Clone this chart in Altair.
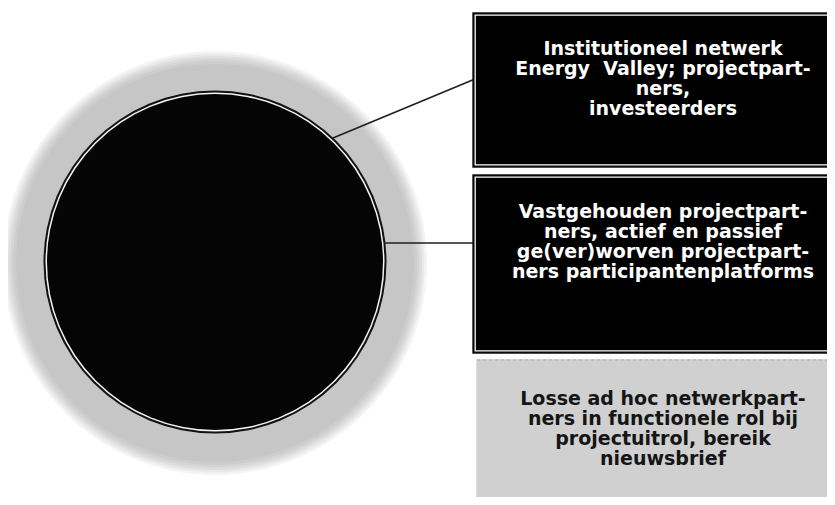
import altair as alt
import pandas as pd

# ---- scene values (page pixel coordinates) ----
# concentric discs: fuzzy grey halo, then ringed black core
disc_cx = [215, 215, 215, 215, 215, 215, 215, 215, 215]
disc_cy = [263, 263, 263, 263, 263, 263, 262, 262, 262]
disc_d = [424, 419, 414, 409, 404, 398, 343, 339, 336]
disc_fill = ["#f4f4f4", "#e9e9e9", "#dedede", "#d5d5d5", "#cdcdcd", "#c6c6c6",
             "#111111", "#f4f4f4", "#050505"]

# connector lines from the core to the boxes
line_x = [333, 384]
line_y = [138, 243]
line_x2 = [475, 475]
line_y2 = [79, 243]

# boxes (the right edge runs off the picture)
box_x = [473, 473, 477]
box_x2 = [860, 860, 860]
box_y = [13, 175, 360]
box_y2 = [167, 353, 520]
box_fill = ["#000000", "#000000", "#d0d0d0"]
box_edge = ["#111111", "#111111", "#d0d0d0"]
box_frame = ["#ffffff", "#ffffff", "#d0d0d0"]

# box texts, one row per line
text_lines = [
    "Institutioneel netwerk", "Energy\u00a0 Valley; projectpart-", "ners,", "investeerders",
    "Vastgehouden projectpart-", "ners, actief en passief", "ge(ver)worven projectpart-", "ners participantenplatforms",
    "Losse ad hoc netwerkpart-", "ners in functionele rol bij", "projectuitrol, bereik", "nieuwsbrief",
]
text_x = [663] * 12
text_y = [55, 75, 95, 115, 218, 238, 258, 278, 405, 425, 445, 465]
text_color = ["#ffffff"] * 8 + ["#151515"] * 4

W, H = 819, 489
xs = alt.Scale(domain=[8, 8 + W])
ys = alt.Scale(domain=[8, 8 + H], reverse=True)

discs = pd.DataFrame({
    "i": list(range(len(disc_d))),
    "cx": disc_cx, "cy": disc_cy,
    "size": [d * d for d in disc_d],
    "fill": disc_fill,
})
lines = pd.DataFrame({"x": line_x, "y": line_y, "x2": line_x2, "y2": line_y2})
boxes = pd.DataFrame({"x": box_x, "x2": box_x2, "y": box_y, "y2": box_y2,
                      "fill": box_fill, "edge": box_edge})
frames = pd.DataFrame({"x": [b + 2.2 for b in box_x], "x2": box_x2,
                       "y": [b + 2.2 for b in box_y], "y2": [b - 2.2 for b in box_y2],
                       "frame": box_frame})
texts = pd.DataFrame({"t": text_lines, "x": text_x, "y": text_y, "c": text_color})

ax = dict(axis=None)

disc_layer = alt.Chart(discs).mark_circle(opacity=1, strokeWidth=0).encode(
    x=alt.X("cx:Q", scale=xs, **ax),
    y=alt.Y("cy:Q", scale=ys, **ax),
    size=alt.Size("size:Q", scale=None, legend=None),
    color=alt.Color("fill:N", scale=None, legend=None),
    order=alt.Order("i:Q"),
)

line_layer = alt.Chart(lines).mark_rule(color="#1e1e1e", strokeWidth=1.6).encode(
    x=alt.X("x:Q", scale=xs, **ax), y=alt.Y("y:Q", scale=ys, **ax),
    x2="x2:Q", y2="y2:Q",
)

box_layer = alt.Chart(boxes).mark_rect(strokeWidth=1.4).encode(
    x=alt.X("x:Q", scale=xs, **ax), x2="x2:Q",
    y=alt.Y("y:Q", scale=ys, **ax), y2="y2:Q",
    color=alt.Color("fill:N", scale=None, legend=None),
    stroke=alt.Stroke("edge:N", scale=None, legend=None),
)

frame_layer = alt.Chart(frames).mark_rect(fillOpacity=0, strokeWidth=1.3).encode(
    x=alt.X("x:Q", scale=xs, **ax), x2="x2:Q",
    y=alt.Y("y:Q", scale=ys, **ax), y2="y2:Q",
    stroke=alt.Stroke("frame:N", scale=None, legend=None),
)

grey_top = alt.Chart(pd.DataFrame({"x": [box_x[2]], "x2": [box_x2[2]], "y": [box_y[2]]})).mark_rule(
    color="#a8a8a8", strokeWidth=1.2, strokeDash=[3, 3]
).encode(x=alt.X("x:Q", scale=xs, **ax), x2="x2:Q", y=alt.Y("y:Q", scale=ys, **ax))

text_layer = alt.Chart(texts).mark_text(
    font="DejaVu Sans", fontSize=19, fontWeight="bold", align="center", baseline="alphabetic"
).encode(
    x=alt.X("x:Q", scale=xs, **ax), y=alt.Y("y:Q", scale=ys, **ax),
    text="t:N",
    color=alt.Color("c:N", scale=None, legend=None),
)

chart = alt.layer(disc_layer, line_layer, box_layer, frame_layer, grey_top, text_layer).properties(
    width=W, height=H, autosize=alt.AutoSizeParams(type="none"), padding=0,
    background="#ffffff",
).configure_view(stroke=None)

chart.save("out.html", embed_options={"renderer": "svg", "actions": False})
